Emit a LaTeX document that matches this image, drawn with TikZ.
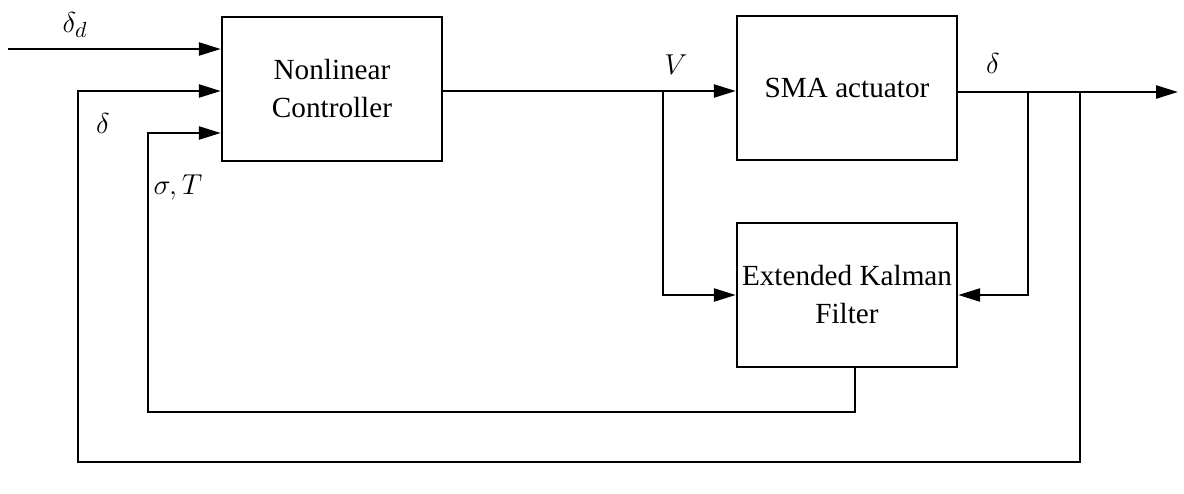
\documentclass[tikz,border=0pt]{standalone}
\usepackage{fontspec}
\setmainfont{Liberation Serif}
\usetikzlibrary{arrows.meta}
\begin{document}
\begin{tikzpicture}[x=0.5pt,y=-0.5pt,
  block/.style={draw, line width=1.2pt, minimum width=110pt, minimum height=72pt,
    align=center, inner sep=0pt, font=\fontsize{14.6}{19}\selectfont},
  wire/.style={line width=1.2pt},
  sig/.style={wire, -{Triangle[length=11pt,width=6.5pt]}},
  lbl/.style={inner sep=0pt, font=\fontsize{15}{17}\selectfont}]
\useasboundingbox (0,0) rectangle (1184,493);

% blocks
\node[block] (ctrl) at (332,89) {Nonlinear\\Controller};
\node[block] (sma) at (847,88) {SMA actuator};
\node[block] (ekf) at (847,295) {Extended Kalman\\Filter};

% junctions and free ends
\coordinate (dd) at (8,49);
\coordinate (vj) at (663,91);
\coordinate (dj) at (1028,92);
\coordinate (fj) at (1080,92);
\coordinate (out) at (1178,92);
\coordinate (fb1) at (78,462);
\coordinate (fb2) at (148,412);
\coordinate (st) at (222,133);

% reference input
\draw[sig] (dd) -- (ctrl.west |- dd);

% control voltage
\draw[wire] (ctrl.east |- vj) -- (vj);
\draw[sig] (vj) -- (sma.west |- vj);
\draw[sig] (vj) |- (ekf.west);

% actuator output
\draw[wire] (sma.east |- dj) -- (fj);
\draw[sig] (fj) -- (out);
\draw[sig] (dj) |- (ekf.east);

% feedback paths
\draw[sig] (fj) |- (fb1) |- (ctrl.west |- vj);
\draw[sig] ([xshift=4pt]ekf.south) |- (fb2) |- (ctrl.west |- st);

% signal labels
\node[lbl] at (75,25) {$\delta_d$};
\node[lbl] at (103,123) {$\delta$};
\node[lbl] at (178,187) {$\sigma,T$};
\node[lbl] at (676,65) {$V$};
\node[lbl] at (993,63) {$\delta$};
\end{tikzpicture}
\end{document}
